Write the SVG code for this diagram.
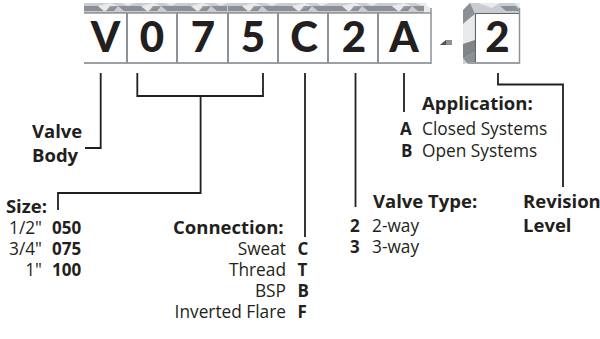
<svg xmlns="http://www.w3.org/2000/svg" width="600" height="339" viewBox="0 0 600 339">
<style>
.big{font-family:Lato,"Open Sans","Liberation Sans",sans-serif;font-weight:900;font-size:42px;fill:#231f20;text-anchor:middle}
.h{font-family:"Open Sans","Liberation Sans",sans-serif;font-weight:700;font-size:18.5px;fill:#231f20}
.t{font-family:"Open Sans","Liberation Sans",sans-serif;font-weight:400;font-size:17.3px;fill:#231f20}
.b{font-family:"Open Sans","Liberation Sans",sans-serif;font-weight:700;font-size:17px;fill:#231f20}
.end{text-anchor:end}
.face{fill:#fff}
.sep{stroke:#8c9298;stroke-width:2}
.top{fill:#c9cdd1}
.f1{fill:#8a9096}
.f2{fill:#e8eaec}
.f3{fill:#5f656b}
.rim{stroke:#5f656b;stroke-width:1.2;fill:none}
.bot{stroke:#9aa0a6;stroke-width:2}
.conn{fill:none;stroke:#231f20;stroke-width:1.8}
</style>
<defs>
<g id="bevel">
<polygon class="f1" points="0,6 14,6 20,11 0,11"/>
<polygon class="f2" points="14,6 26,3 34,6 20,11"/>
<polygon class="f3" points="26,6 34,6 30,11 22,11" opacity="0.6"/>
<polygon class="f1" points="34,6 50,6 50,11 40,11"/>
<polygon class="f2" points="38,3 50,3 44,6"/>
</g>
</defs>
<g id="strip">
<rect class="top" x="84" y="3" width="342" height="10"/>
<use href="#bevel" x="84"/>
<use href="#bevel" x="127"/>
<use href="#bevel" x="177"/>
<use href="#bevel" x="228"/>
<use href="#bevel" x="278"/>
<use href="#bevel" x="328"/>
<use href="#bevel" x="378"/>
<polygon class="f2" points="424,3 430,8 430,13 424,13"/>
<line class="rim" x1="84" y1="13" x2="431" y2="13"/>
<rect class="face" x="84" y="14" width="347" height="48"/>
<line class="bot" x1="84" y1="63" x2="431" y2="63"/>
<line x1="431" y1="8" x2="431" y2="64" stroke="#8c9298" stroke-width="1.5"/>
</g>
<g id="box-V"><text class="big" x="105.5" y="52">V</text></g>
<g id="box-0"><line class="sep" x1="127" y1="13" x2="127" y2="63"/><text class="big" x="152" y="52">0</text></g>
<g id="box-7"><line class="sep" x1="177" y1="13" x2="177" y2="63"/><text class="big" x="203" y="52">7</text></g>
<g id="box-5"><line class="sep" x1="228" y1="13" x2="228" y2="63"/><text class="big" x="253" y="52">5</text></g>
<g id="box-C"><line class="sep" x1="278" y1="13" x2="278" y2="63"/><text class="big" x="304" y="52">C</text></g>
<g id="box-2"><line class="sep" x1="328" y1="13" x2="328" y2="63"/><text class="big" x="354" y="52">2</text></g>
<g id="box-A"><line class="sep" x1="378" y1="13" x2="378" y2="63"/><text class="big" x="404" y="52">A</text></g>
<g id="dash">
<polygon points="440,45 446,40 452,40 452,45" fill="#8a9096"/>
<polygon points="440,45 446,40 446,45" fill="#4e545a"/>
</g>
<g id="box-rev">
<polygon class="top" points="463,10 470,3 520,3 520,14 475,14 475,62 463,64"/>
<polygon class="f1" points="463,10 470,3 475,14 463,24"/>
<polygon class="f2" points="463,24 475,14 475,40 463,44"/>
<polygon class="f3" points="463,44 475,40 475,52 463,58" opacity="0.7"/>
<polygon class="f1" points="463,58 475,52 475,62 468,64"/>
<polygon class="f2" points="478,3 500,3 492,8"/>
<polygon class="f1" points="500,6 516,6 520,11 506,11"/>
<polygon class="f2" points="514,3 520,8 520,3"/>
<line class="rim" x1="475" y1="13.5" x2="519" y2="13.5"/>
<line class="rim" x1="475.5" y1="14" x2="475.5" y2="62"/>
<rect class="face" x="476" y="14" width="43" height="48"/>
<line x1="519.5" y1="8" x2="519.5" y2="64" stroke="#8c9298" stroke-width="1.5"/>
<line class="bot" x1="468" y1="63" x2="520" y2="63"/>
<text class="big" x="497.5" y="52">2</text>
</g>
<g id="connectors">
<path class="conn" d="M100.7,73 V148 H85"/>
<path class="conn" d="M137.3,73 V96 H263 V73"/>
<path class="conn" d="M200.6,96 V193 H58 V210"/>
<path class="conn" d="M305,73 V237"/>
<path class="conn" d="M355.5,73 V207"/>
<path class="conn" d="M404,73 V112"/>
<path class="conn" d="M498,73 V84.5 H563 V187"/>
</g>
<g id="valve-body">
<text class="h" x="32" y="138">Valve</text>
<text class="h" x="32" y="162">Body</text>
</g>
<g id="size">
<text class="h end" x="47" y="213">Size:</text>
<text class="t end" x="42" y="234">1/2"</text><text class="b" x="52" y="234">050</text>
<text class="t end" x="42" y="255">3/4"</text><text class="b" x="52" y="255">075</text>
<text class="t end" x="42" y="276">1"</text><text class="b" x="52" y="276">100</text>
</g>
<g id="connection">
<text class="h" x="173" y="234">Connection:</text>
<text class="t end" x="286" y="255">Sweat</text><text class="b" x="297.5" y="255">C</text>
<text class="t end" x="286" y="276">Thread</text><text class="b" x="297.5" y="276">T</text>
<text class="t end" x="286" y="297">BSP</text><text class="b" x="297.5" y="297">B</text>
<text class="t end" x="286" y="318">Inverted Flare</text><text class="b" x="297.5" y="318">F</text>
</g>
<g id="valve-type">
<text class="h" x="373" y="208">Valve Type:</text>
<text class="b" x="350" y="232">2</text><text class="t" x="372" y="232">2-way</text>
<text class="b" x="350" y="253">3</text><text class="t" x="372" y="253">3-way</text>
</g>
<g id="application">
<text class="h" x="422" y="110">Application:</text>
<text class="b" x="400" y="135">A</text><text class="t" x="422" y="135">Closed Systems</text>
<text class="b" x="401" y="157">B</text><text class="t" x="422" y="157">Open Systems</text>
</g>
<g id="revision">
<text class="h" x="523" y="208">Revision</text>
<text class="h" x="523" y="232">Level</text>
</g>
</svg>
